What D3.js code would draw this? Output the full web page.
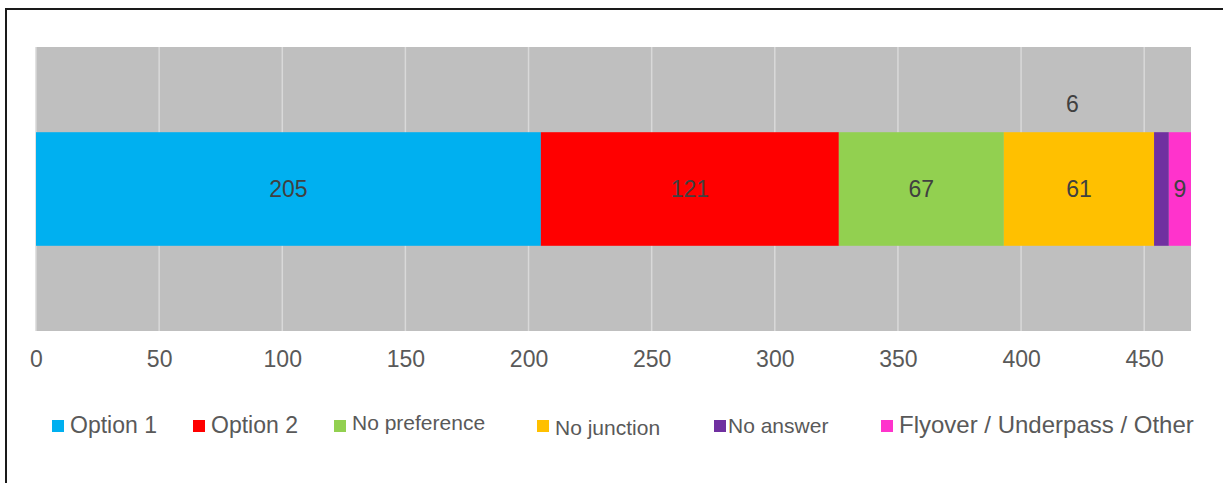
<!DOCTYPE html>
<html>
<head>
<meta charset="utf-8">
<script src="https://cdn.jsdelivr.net/npm/d3@7"></script>
<style>
  html, body { margin: 0; padding: 0; background: #fff; }
  svg { display: block; font-family: "Liberation Sans", Arial, sans-serif; }
</style>
</head>
<body>
<svg id="chart" width="1223" height="483"></svg>
<script>
// ---- data ----
const categories = ["Option 1", "Option 2", "No preference", "No junction", "No answer", "Flyover / Underpass / Other"];
const values = [205, 121, 67, 61, 6, 9];
const colors = ["#00b0f0", "#ff0000", "#92d050", "#ffc000", "#7030a0", "#ff33cc"];
const tickValues = [0, 50, 100, 150, 200, 250, 300, 350, 400, 450];
const legendFontSizes = [23, 23, 21, 21, 21, 24];
const legendDy = [0, 0, -3, 2, 0, 0];
const legendX = [52, 193, 334, 537, 714, 881];

const svg = d3.select("#chart");
const W = 1223, H = 483;
const plot = { left: 36, right: 1191, top: 47, bottom: 331 };

// outer frame (top + left visible)
svg.append("line").attr("x1", 5).attr("x2", W).attr("y1", 9).attr("y2", 9)
  .attr("stroke", "#1a1a1a").attr("stroke-width", 2);
svg.append("line").attr("x1", 6).attr("x2", 6).attr("y1", 8).attr("y2", H)
  .attr("stroke", "#1a1a1a").attr("stroke-width", 2);

const total = d3.sum(values);
const x = d3.scaleLinear().domain([0, total]).range([plot.left, plot.right]);
const y = d3.scaleBand().domain(["row"]).range([plot.top, plot.bottom]).paddingInner(0.6).paddingOuter(0.3);

// plot background
svg.append("rect").attr("x", plot.left).attr("y", plot.top)
  .attr("width", plot.right - plot.left).attr("height", plot.bottom - plot.top)
  .attr("fill", "#bfbfbf");

// gridlines
svg.append("g").selectAll("line").data(tickValues).join("line")
  .attr("x1", d => x(d)).attr("x2", d => x(d))
  .attr("y1", plot.top).attr("y2", plot.bottom)
  .attr("stroke", "#d9d9d9").attr("stroke-width", 1.5);

// stacked segments
let acc = 0;
const segs = values.map((v, i) => { const s = { i, v, x0: acc, x1: acc + v }; acc += v; return s; });

svg.append("g").selectAll("rect").data(segs).join("rect")
  .attr("x", d => x(d.x0)).attr("width", d => x(d.x1) - x(d.x0))
  .attr("y", y("row")).attr("height", y.bandwidth())
  .attr("fill", d => colors[d.i]);

// data labels
const cy = y("row") + y.bandwidth() / 2;
svg.append("g").selectAll("text").data(segs).join("text")
  .attr("x", d => (x(d.x0) + x(d.x1)) / 2 + (d.i === 4 ? -89 : 0))
  .attr("y", d => cy + (d.i === 4 ? -85 : 0))
  .attr("dy", "0.36em")
  .attr("text-anchor", "middle")
  .attr("font-size", 23)
  .attr("fill", "#404040")
  .text(d => d.v);

// x axis labels
const axis = d3.axisBottom(x).tickValues(tickValues).tickSize(0).tickPadding(0).tickFormat(d3.format("d"));
const ag = svg.append("g").attr("transform", `translate(0, ${plot.bottom})`).call(axis);
ag.select(".domain").remove();
ag.selectAll("text").attr("font-size", 23).attr("fill", "#595959")
  .attr("font-family", "Liberation Sans, Arial, sans-serif")
  .attr("y", 36).attr("dy", 0);

// legend
const lg = svg.append("g").selectAll("g").data(categories).join("g")
  .attr("transform", (d, i) => `translate(${legendX[i]}, 420)`);
lg.append("rect").attr("width", 12).attr("height", 12).attr("fill", (d, i) => colors[i]);
lg.append("text")
  .attr("x", (d, i) => i === 4 ? 14 : 18)
  .attr("y", (d, i) => 13 + legendDy[i])
  .attr("font-size", (d, i) => legendFontSizes[i])
  .attr("fill", "#595959")
  .text(d => d);
</script>
</body>
</html>
